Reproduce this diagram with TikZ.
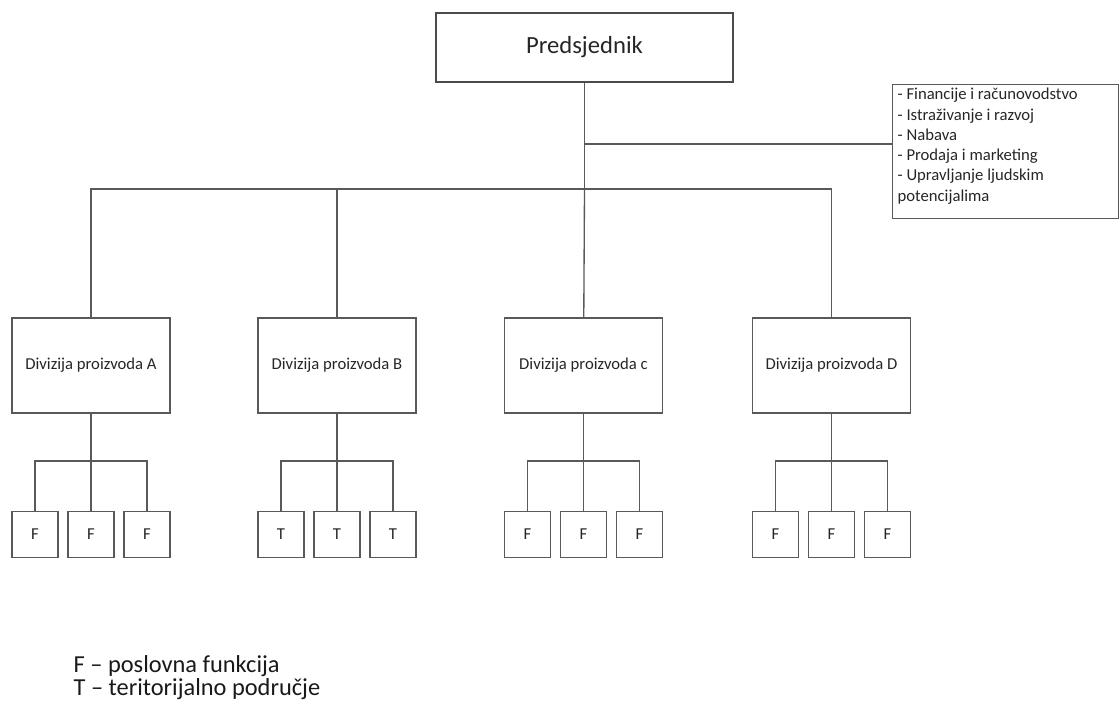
\documentclass[tikz,border=0pt]{standalone}
\usepackage{fontspec}
\setmainfont{Carlito}
\usetikzlibrary{positioning}

\begin{document}
\begin{tikzpicture}[x=0.75pt, y=-0.75pt, line width=1pt,
    box/.style={draw=black!65, text=black!85, minimum width=118.5pt, minimum height=71.25pt, font=\fontsize{12.5}{15}\selectfont},
    unit/.style={draw=black!65, text=black!85, minimum size=34.5pt, inner sep=0pt, font=\fontsize{12.5}{15}\selectfont},
    legend/.style={anchor=base west, inner sep=0pt, text=black!90, font=\fontsize{18.3}{21}\selectfont},
    link/.style={black!65},
    elbow/.style={to path={-| (\tikztotarget)}}]
  \useasboundingbox (0,0) rectangle (1120,704);

  \node[box, draw=black!70, minimum width=222.75pt, minimum height=51.75pt, font=\fontsize{18.5}{22}\selectfont] (pres) at (584.5,47.5) {Predsjednik};
  \node[box, anchor=north west, minimum width=0pt, minimum height=0pt, inner xsep=3.75pt, inner ysep=2.75pt,
        font=\fontsize{12.5}{15.2}\selectfont] (staff) at (892,84)
        {\parbox[c][95pt][t]{162pt}{\raggedright - Financije i računovodstvo\\- Istraživanje i razvoj\\- Nabava\\- Prodaja i marketing\\- Upravljanje ljudskim\\potencijalima}};

  \node[box] (divA) at (91,365.5) {Divizija proizvoda A};
  \node[box] (divB) at (337,365.5) {Divizija proizvoda B};
  \node[box] (divC) at (583.5,365.5) {Divizija proizvoda c};
  \node[box] (divD) at (831.5,365.5) {Divizija proizvoda D};

  \node[unit] (a1) at (35,534.5) {F};
  \node[unit] (a2) at (91,534.5) {F};
  \node[unit] (a3) at (147,534.5) {F};
  \node[unit] (b1) at (281,534.5) {T};
  \node[unit] (b2) at (337,534.5) {T};
  \node[unit] (b3) at (393,534.5) {T};
  \node[unit] (c1) at (527.5,534.5) {F};
  \node[unit] (c2) at (583.5,534.5) {F};
  \node[unit] (c3) at (639.5,534.5) {F};
  \node[unit] (d1) at (775.5,534.5) {F};
  \node[unit] (d2) at (831.5,534.5) {F};
  \node[unit] (d3) at (887.5,534.5) {F};

  \coordinate (hub) at (584.5,189);
  \coordinate (staffjoin) at (584.5,144);
  \coordinate (jA) at (91,461);
  \coordinate (jB) at (337,461);
  \coordinate (jC) at (583.5,461);
  \coordinate (jD) at (831.5,461);

  \path[link]
    (pres) edge (hub)
    (staffjoin) edge (staffjoin -| staff.west)
    (hub) edge[elbow] (divA)
          edge[elbow] (divB)
          edge (divC)
          edge[elbow] (divD);

  \path[link]
    (divA) edge (a2)
    (jA) edge[elbow] (a1)
         edge[elbow] (a3)
    (divB) edge (b2)
    (jB) edge[elbow] (b1)
         edge[elbow] (b3)
    (divC) edge (c2)
    (jC) edge[elbow] (c1)
         edge[elbow] (c3)
    (divD) edge (d2)
    (jD) edge[elbow] (d1)
         edge[elbow] (d3);

  \node[legend] (legF) at (73,672) {F – poslovna funkcija};
  \node[legend] (legT) at (73,695) {T – teritorijalno područje};
\end{tikzpicture}
\end{document}
